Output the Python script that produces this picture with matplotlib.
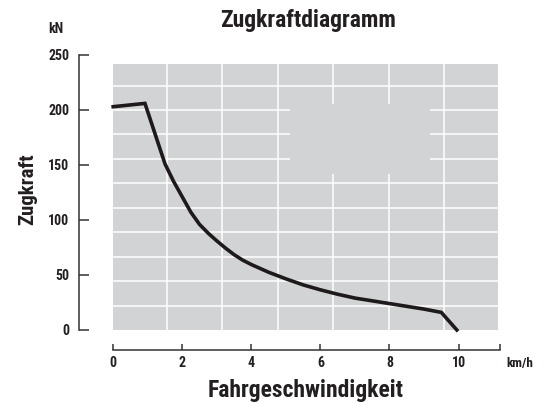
import numpy as np
import matplotlib
matplotlib.use("Agg")
import matplotlib.pyplot as plt
from matplotlib.patches import Rectangle

# speed (km/h) vs tractive force (kN)
speed = [0, 0.92, 1.5, 1.75, 2.0, 2.25, 2.5, 2.75, 3.0, 3.25, 3.5, 3.75, 4.0, 4.5,
         5.0, 5.5, 6.0, 6.5, 7.0, 7.5, 8.0, 8.5, 9.0, 9.5, 9.95]
force = [203, 206, 151, 135, 121, 107, 96, 88, 81, 74.5, 68.5, 63.5, 59.5, 52.5,
         46.5, 41, 36.5, 32.5, 29, 26.5, 24, 21.5, 19, 16, 0]

x_ticks = [0, 2, 4, 6, 8, 10]
y_ticks = [0, 50, 100, 150, 200, 250]

plt.rcParams['font.family'] = ['Roboto Condensed', 'Barlow Condensed', 'DejaVu Sans']
plt.rcParams['font.weight'] = 'bold'
ink = '#231f20'

fig = plt.figure(figsize=(5.45, 4.03), dpi=100)
# axes in figure pixels: left 79, right 500, bottom 53, top 348
ax = fig.add_axes([79 / 545, 53 / 403, 421 / 545, 295 / 403])
ax.set_xlim(-0.99, 11.2)
ax.set_ylim(-18.2, 250)

bg = '#d2d3d5'
ax.add_patch(Rectangle((0, 0), 11.13, 241.8, facecolor=bg, edgecolor='none', zorder=0))
for yv in np.arange(1, 11) * 200 / 9:
    ax.plot([0, 11.13], [yv, yv], color='white', lw=1.1, zorder=1)
for xv in np.linspace(1.55, 9.59, 6):
    ax.plot([xv, xv], [0, 241.8], color='white', lw=1.1, zorder=1)
# blank patch without grid
ax.add_patch(Rectangle((5.12, 141.8), 4.06, 63.7, facecolor=bg, edgecolor='none', zorder=2))

ax.plot(speed, force, color='#1e1a1b', lw=2.6, solid_joinstyle='miter', zorder=3)

for s in ['top', 'right']:
    ax.spines[s].set_visible(False)
ax.spines['left'].set_bounds(0, 250)
ax.spines['bottom'].set_bounds(0, 11.2)
for s in ['left', 'bottom']:
    ax.spines[s].set_color('#333333')
    ax.spines[s].set_linewidth(1.1)

ax.set_yticks(y_ticks)
ax.set_yticklabels([str(v) for v in y_ticks])
ax.set_xticks(x_ticks + [11.2])
ax.set_xticklabels([str(v) for v in x_ticks] + [''])
ax.tick_params(axis='y', direction='in', length=7.5, width=1.1, color='#333333',
               pad=7, labelsize=10, labelcolor=ink)
ax.tick_params(axis='x', direction='in', length=4, width=1.1, color='#333333',
               pad=4, labelsize=10, labelcolor=ink)
for lab in ax.get_xticklabels() + ax.get_yticklabels():
    lab.set_fontweight('bold')

fig.text(308 / 545, 1 - 26.7 / 403, 'Zugkraftdiagramm', ha='center', va='baseline',
         fontsize=17, fontweight='bold', color=ink)
fig.text(56 / 545, 1 - 33 / 403, 'kN', ha='center', va='baseline',
         fontsize=10, fontweight='bold', color=ink)
fig.text(28 / 545, 1 - 189 / 403, 'Zugkraft', ha='center', va='center', rotation=90,
         fontsize=15, fontweight='bold', color=ink)
fig.text(306 / 545, 1 - 396.7 / 403, 'Fahrgeschwindigkeit', ha='center', va='baseline',
         fontsize=17, fontweight='bold', color=ink)
fig.text(520 / 545, 1 - 367 / 403, 'km/h', ha='center', va='baseline',
         fontsize=9.5, fontweight='bold', color=ink)

fig.savefig('out.png', dpi=100, facecolor='white')
